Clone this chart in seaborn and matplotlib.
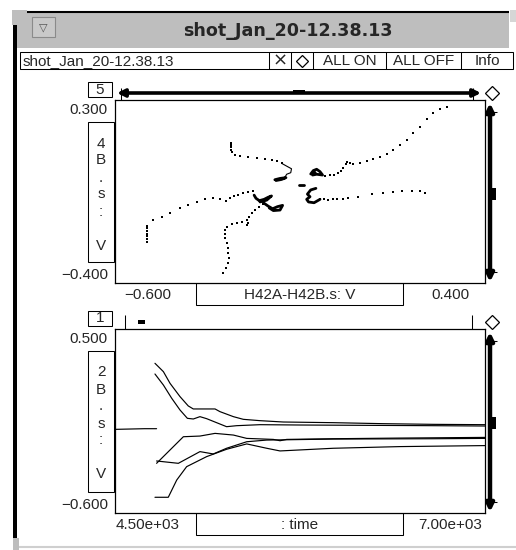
import matplotlib
matplotlib.use("Agg")
import matplotlib.pyplot as plt
from matplotlib.patches import Rectangle
import numpy as np
import pandas as pd
import seaborn as sns

# ---- data: top panel, H42B.s vs H42A-H42B.s (V) ----
traj_a_x = [-0.046, -0.032, -0.019, -0.007, 0.002, 0.010, 0.017, 0.023, 0.028, 0.035, 0.044, 0.062,
            0.080, 0.098, 0.116, 0.134, 0.152, 0.170, 0.188, 0.206, 0.224, 0.242, 0.260, 0.278, 0.296]
traj_a_y = [0.013, 0.011, 0.012, 0.014, 0.019, 0.028, 0.040, 0.055, 0.064, 0.060, 0.055, 0.060,
            0.067, 0.073, 0.081, 0.093, 0.109, 0.127, 0.147, 0.172, 0.198, 0.226, 0.249, 0.264, 0.274]

traj_b_x = [-0.046, -0.035, -0.023, -0.012, 0.001, 0.015, 0.031, 0.058, 0.094, 0.125, 0.152, 0.175,
            0.202, 0.224, 0.238]
traj_b_y = [-0.077, -0.080, -0.081, -0.080, -0.079, -0.077, -0.075, -0.070, -0.060, -0.055, -0.051,
            -0.048, -0.048, -0.048, -0.057]

traj_c_x = [-0.286, -0.286, -0.286, -0.286, -0.284, -0.276, -0.262, -0.240, -0.217, -0.195, -0.177,
            -0.161, -0.150]
traj_c_y = [0.137, 0.128, 0.119, 0.110, 0.101, 0.091, 0.086, 0.081, 0.077, 0.073, 0.070, 0.067, 0.058]

traj_d_x = [-0.514, -0.514, -0.514, -0.514, -0.514, -0.514, -0.514, -0.496, -0.474, -0.451, -0.424,
            -0.402, -0.379, -0.357, -0.334, -0.316, -0.300, -0.289, -0.278, -0.267, -0.253, -0.240, -0.228]
traj_d_y = [-0.242, -0.232, -0.222, -0.211, -0.201, -0.191, -0.181, -0.159, -0.146, -0.134, -0.114,
            -0.102, -0.089, -0.080, -0.076, -0.079, -0.086, -0.076, -0.066, -0.062, -0.057, -0.052, -0.048]

traj_e_x = [-0.199, -0.210, -0.221, -0.231, -0.239, -0.242, -0.240, -0.244, -0.258, -0.271, -0.285,
            -0.298, -0.304, -0.304, -0.302, -0.298, -0.295, -0.294, -0.293, -0.295, -0.300, -0.309]
traj_e_y = [-0.098, -0.108, -0.121, -0.134, -0.146, -0.159, -0.172, -0.180, -0.166, -0.169, -0.174,
            -0.185, -0.197, -0.213, -0.229, -0.248, -0.267, -0.287, -0.306, -0.325, -0.344, -0.363]

# dense clumps near the centre
blob_a_x = [-0.071, -0.064, -0.055, -0.046, -0.039, -0.055, -0.066, -0.059]
blob_a_y = [0.017, 0.030, 0.035, 0.026, 0.013, 0.016, 0.013, 0.022]
blob_b_x = [-0.057, -0.071, -0.080, -0.073, -0.082, -0.077, -0.062, -0.046]
blob_b_y = [-0.038, -0.044, -0.060, -0.070, -0.080, -0.090, -0.093, -0.080]
dash_x = [-0.103, -0.089]
dash_y = [-0.026, -0.026]
loop_c_x = [-0.150, -0.136, -0.123, -0.125, -0.136, -0.141, -0.150]
loop_c_y = [0.058, 0.047, 0.037, 0.022, 0.016, 0.004, -0.002]
blob_c_x = [-0.168, -0.154, -0.138, -0.150, -0.165]
blob_c_y = [-0.005, 0.000, 0.003, -0.004, -0.008]
blob_d1_x = [-0.224, -0.219, -0.210, -0.197, -0.186, -0.177, -0.190, -0.208]
blob_d1_y = [-0.064, -0.076, -0.085, -0.080, -0.072, -0.067, -0.083, -0.090]
blob_d2_x = [-0.199, -0.186, -0.174, -0.161, -0.147, -0.154, -0.172, -0.183]
blob_d2_y = [-0.093, -0.106, -0.116, -0.108, -0.103, -0.121, -0.123, -0.113]

# ---- data: bottom panel, H42B.s vs time ----
t0 = [4500, 4600, 4700, 4781]
v0 = [-0.100, -0.098, -0.096, -0.096]
t1 = [4770, 4827, 4872, 4939, 4995, 5029, 5176, 5209, 5300, 5367, 5480, 5637, 5975, 6313, 6651, 7000]
v1 = [0.295, 0.245, 0.175, 0.096, 0.040, 0.022, 0.022, 0.006, -0.024, -0.040, -0.048, -0.056,
      -0.060, -0.066, -0.070, -0.072]
t2 = [4770, 4827, 4883, 4939, 4989, 5029, 5074, 5119, 5254, 5322, 5480, 5750, 6200, 6651, 7000]
v2 = [0.231, 0.165, 0.086, 0.016, -0.034, -0.038, -0.024, -0.036, -0.084, -0.078, -0.072, -0.074,
      -0.076, -0.078, -0.080]
t3 = [4781, 4962, 5074, 5176, 5300, 5390, 5570, 5615, 5660, 5975, 6426, 7000]
v3 = [-0.303, -0.144, -0.140, -0.124, -0.134, -0.154, -0.160, -0.168, -0.160, -0.156, -0.152, -0.148]
t4 = [4781, 4928, 5074, 5164, 5254, 5390, 5525, 5975, 6651, 7000]
v4 = [-0.289, -0.303, -0.233, -0.247, -0.213, -0.174, -0.164, -0.158, -0.156, -0.154]
t5 = [4770, 4860, 4917, 4984, 5119, 5254, 5390, 5525, 5615, 5750, 5975, 6426, 7000]
v5 = [-0.506, -0.506, -0.403, -0.323, -0.263, -0.219, -0.187, -0.213, -0.229, -0.223, -0.213,
      -0.203, -0.197]

title = "shot_Jan_20-12.38.13"
top_xlabel = "H42A-H42B.s: V"
bot_xlabel = ": time"
top_xlim = (-0.6, 0.4)
top_ylim = (-0.4, 0.3)
bot_xlim = (4500, 7000)
bot_ylim = (-0.6, 0.5)
ylabel_chars = ["4", "B", ".", "s", ":", "", "V"]
ylabel_chars2 = ["2", "B", ".", "s", ":", "", "V"]

sns.set_style("white")
plt.rcParams['font.family'] = ['Liberation Sans', 'DejaVu Sans']
FS = 11

W, H = 516, 550
fig = plt.figure(figsize=(W / 100, H / 100), dpi=100)
fig.patch.set_facecolor("white")

# overlay in pixel coordinates for the window chrome
gui = fig.add_axes([0, 0, 1, 1])
gui.set_xlim(0, W)
gui.set_ylim(H, 0)
gui.axis("off")


def rect(x0, y0, x1, y1, fc="none", ec="black", lw=0.75, z=1):
    gui.add_patch(Rectangle((x0, y0), x1 - x0, y1 - y0, facecolor=fc, edgecolor=ec, lw=lw, zorder=z))


def hline(x0, x1, y, lw=0.75, c="black"):
    gui.plot([x0, x1], [y, y], color=c, lw=lw, solid_capstyle="butt")


def vline(x, y0, y1, lw=0.75, c="black"):
    gui.plot([x, x], [y0, y1], color=c, lw=lw, solid_capstyle="butt")


# window frame and title bar
rect(17, 12, 509, 48, fc="#bebebe", ec="none", lw=0)
hline(27, 509, 11.5, lw=1.5)
rect(12, 10, 27, 25, fc="#bebebe", ec="none", lw=0)
rect(13, 25, 17, 538, fc="black", ec="none", lw=0)
rect(13, 538, 19, 550, fc="#bdbdbd", ec="none", lw=0)
hline(19, 516, 547, lw=1.5, c="#cfcfcf")
rect(510, 10, 516, 22, fc="#d6d6d6", ec="none", lw=0)
rect(32, 17, 55, 37, fc="#c9c9c9", ec="#8a8a8a", lw=0.8)
gui.text(43.5, 27, "\u25bd", ha="center", va="center", fontsize=8, color="#555555",
         family=["DejaVu Sans"])
gui.text(287.5, 31, title, ha="center", va="center", fontsize=12.6, fontweight="bold",
         family=["DejaVu Sans"])

# toolbar
rect(20, 52, 513, 69, fc="white")
for xd in [269, 291, 313, 386, 461]:
    vline(xd, 52, 69)
gui.text(23, 61, title, ha="left", va="center", fontsize=FS)
gui.text(280, 61, "\u00d7", ha="center", va="center", fontsize=13, family=["DejaVu Sans"])
gui.plot([302], [60.5], marker="D", ms=6.5, mfc="white", mec="black", mew=0.9)
gui.text(349.5, 61, "ALL ON", ha="center", va="center", fontsize=FS)
gui.text(423.5, 61, "ALL OFF", ha="center", va="center", fontsize=FS)
gui.text(487, 61, "Info", ha="center", va="center", fontsize=FS)


def panel_chrome(top, bottom, num, ymax_txt, ymin_txt, chars, xl_txt, xr_txt, xlab, hbar):
    # number box
    rect(88, top - 18, 112, top - 3, fc="white")
    gui.text(100, top - 10.5, num, ha="center", va="center", fontsize=FS)
    # y range labels
    gui.text(108, top + 10, ymax_txt, ha="right", va="center", fontsize=FS)
    gui.text(108, bottom - 8, ymin_txt, ha="right", va="center", fontsize=FS)
    # vertical label box
    rect(88, top + 22, 114, bottom - 21, fc="white")
    for k, ch in enumerate(chars):
        gui.text(101, top + 42 + 17 * k + 5.5, ch, ha="center", va="baseline", fontsize=FS)
    # x range labels and name box
    rect(196, bottom, 403, bottom + 22, fc="white")
    gui.text(299.5, bottom + 12, xlab, ha="center", va="center", fontsize=FS)
    gui.text(148, bottom + 12, xl_txt, ha="center", va="center", fontsize=FS)
    gui.text(450, bottom + 12, xr_txt, ha="center", va="center", fontsize=FS)
    # right vertical scroll arrow
    gui.annotate("", xy=(490, top + 3), xytext=(490, bottom - 1),
                 arrowprops=dict(arrowstyle="<|-|>", lw=3.2, color="black",
                                 mutation_scale=11, shrinkA=0, shrinkB=0))
    hline(485, 497, top + 12)
    hline(485, 497, bottom - 11)
    mid = (top + bottom) / 2 + 2
    rect(491.5, mid - 6, 495.5, mid + 6, fc="black", ec="none", lw=0)
    gui.plot([492], [top - 7], marker="D", ms=7, mfc="white", mec="black", mew=0.9)
    if hbar:
        gui.annotate("", xy=(117, top - 7), xytext=(481, top - 7),
                     arrowprops=dict(arrowstyle="<|-|>", lw=2.6, color="black",
                                     mutation_scale=11, shrinkA=0, shrinkB=0))
        vline(121, top - 12, top)
        vline(473, top - 12, top)
        rect(293, top - 10, 305, top - 6, fc="black", ec="none", lw=0)
    else:
        vline(125, top - 14, top)
        vline(472, top - 14, top)
        rect(138, top - 9, 145, top - 5, fc="black", ec="none", lw=0)


panel_chrome(100, 283, "5", "0.300", "\u22120.400", ylabel_chars, "\u22120.600", "0.400",
             top_xlabel, True)
panel_chrome(329, 513, "1", "0.500", "\u22120.600", ylabel_chars2, "4.50e+03", "7.00e+03",
             bot_xlabel, False)


def data_axes(top, bottom):
    ax = fig.add_axes([115 / W, 1 - bottom / H, 370 / W, (bottom - top) / H])
    ax.set_facecolor("white")
    for s in ax.spines.values():
        s.set_color("black")
        s.set_linewidth(0.9)
    return ax


# ---- top scatter panel ----
ax1 = data_axes(100, 283)
dots = [(traj_a_x, traj_a_y), (traj_b_x, traj_b_y), (traj_c_x, traj_c_y),
        (traj_d_x, traj_d_y), (traj_e_x, traj_e_y)]
for xs, ys in dots:
    sns.scatterplot(x=xs, y=ys, ax=ax1, s=1.2, color="black", marker="s", linewidth=0)
for xs, ys in [(blob_a_x, blob_a_y), (blob_b_x, blob_b_y), (blob_c_x, blob_c_y),
               (blob_d1_x, blob_d1_y), (blob_d2_x, blob_d2_y), (dash_x, dash_y)]:
    sns.lineplot(x=xs, y=ys, ax=ax1, sort=False, estimator=None, color="black", lw=2.0)
sns.lineplot(x=loop_c_x, y=loop_c_y, ax=ax1, sort=False, estimator=None, color="black", lw=0.8)
ax1.set_xlim(*top_xlim)
ax1.set_ylim(*top_ylim)
ax1.set_xticks([])
ax1.set_yticks([])
ax1.set_xlabel("")
ax1.set_ylabel("")

# ---- bottom time-trace panel ----
ax2 = data_axes(329, 513)
traces = []
for i, (ts, vs) in enumerate([(t0, v0), (t1, v1), (t2, v2), (t3, v3), (t4, v4), (t5, v5)]):
    traces.append(pd.DataFrame({"time": ts, "v": vs, "trace": i}))
df = pd.concat(traces, ignore_index=True)
sns.lineplot(data=df, x="time", y="v", units="trace", estimator=None, sort=False,
             color="black", lw=0.85, ax=ax2)
ax2.set_xlim(*bot_xlim)
ax2.set_ylim(*bot_ylim)
ax2.set_xticks([])
ax2.set_yticks([])
ax2.set_xlabel("")
ax2.set_ylabel("")

fig.savefig("out.png", dpi=100)
